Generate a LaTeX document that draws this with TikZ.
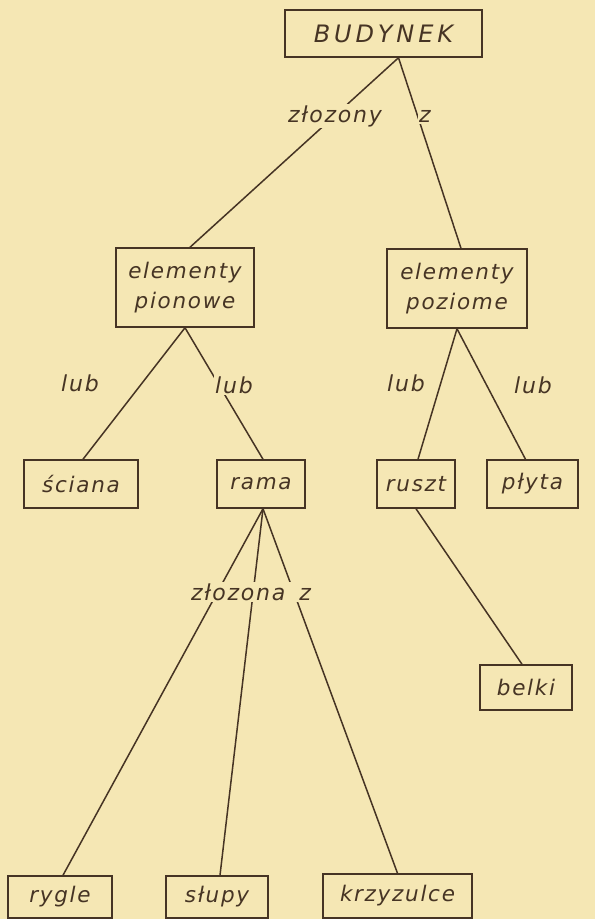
\documentclass[tikz,border=0pt]{standalone}
\usepackage{fontspec}
\setmainfont{DejaVu Sans}
\newfontfamily\lettering[LetterSpace=8]{DejaVu Sans}
\newfontfamily\widelettering[LetterSpace=16]{DejaVu Sans}
\definecolor{paper}{RGB}{245,231,180}
\definecolor{ink}{RGB}{70,52,36}
\begin{document}
\begin{tikzpicture}[x=1pt, y=-1pt,
		box/.style={draw=ink, line width=1.5pt, inner sep=0pt, align=center, text=ink,
			font=\lettering\itshape\fontsize{21.5}{30}\selectfont},
		word/.style={fill=paper, inner sep=1.5pt, text=ink,
			font=\lettering\itshape\fontsize{22}{30}\selectfont},
		link/.style={draw=ink, line width=1.5pt}]
		\fill[paper] (0, 0) rectangle (595, 919);
		% boxes
		\node[box, minimum width=197pt, minimum height=47pt,
			font=\widelettering\itshape\fontsize{24}{30}\selectfont] (budynek) at (383.5, 33.5) {BUDYNEK};
		\node[box, minimum width=138pt, minimum height=79pt] (pionowe) at (185, 287.5) {elementy\\pionowe};
		\node[box, minimum width=140pt, minimum height=79pt] (poziome) at (457, 288.5) {elementy\\poziome};
		\node[box, minimum width=114pt, minimum height=48pt] (sciana) at (81, 484) {ściana};
		\node[box, minimum width=88pt, minimum height=48pt] (rama) at (261, 484) {rama};
		\node[box, minimum width=78pt, minimum height=48pt] (ruszt) at (416, 484) {ruszt};
		\node[box, minimum width=91pt, minimum height=48pt] (plyta) at (532.5, 484) {płyta};
		\node[box, minimum width=92pt, minimum height=45pt] (belki) at (526, 687.5) {belki};
		\node[box, minimum width=104pt, minimum height=42pt] (rygle) at (60, 897) {rygle};
		\node[box, minimum width=102pt, minimum height=42pt] (slupy) at (217, 897) {słupy};
		\node[box, minimum width=149pt, minimum height=44pt] (krzyzulce) at (397.5, 896) {krzyzulce};
		% branches
		\draw[link] ([xshift=15pt]budynek.south) -- ([xshift=5pt]pionowe.north);
		\draw[link] ([xshift=15pt]budynek.south) -- ([xshift=4pt]poziome.north);
		\draw[link] (pionowe.south) -- ([xshift=2pt]sciana.north);
		\draw[link] (pionowe.south) -- ([xshift=2pt]rama.north);
		\draw[link] (poziome.south) -- ([xshift=2pt]ruszt.north);
		\draw[link] (poziome.south) -- ([xshift=-7pt]plyta.north);
		\draw[link] ([xshift=2pt]rama.south) -- ([xshift=3pt]rygle.north);
		\draw[link] ([xshift=2pt]rama.south) -- ([xshift=3pt]slupy.north);
		\draw[link] ([xshift=2pt]rama.south) -- (krzyzulce.north);
		\draw[link] (ruszt.south) -- ([xshift=-4pt]belki.north);
		% labels on the branches
		\node[word] (zlozony) at (335, 116) {złozony};
		\node[word] (z1) at (425, 116) {z};
		\node (lub1) at (80, 383) [word, fill=none] {lub};
		\node (lub2) at (234, 385) [word] {lub};
		\node (lub3) at (406, 383) [word, fill=none] {lub};
		\node (lub4) at (533, 385) [word] {lub};
		\node[word] (zlozona) at (251, 592) {złozona\hspace{14pt}z};
	\end{tikzpicture}
\end{document}
